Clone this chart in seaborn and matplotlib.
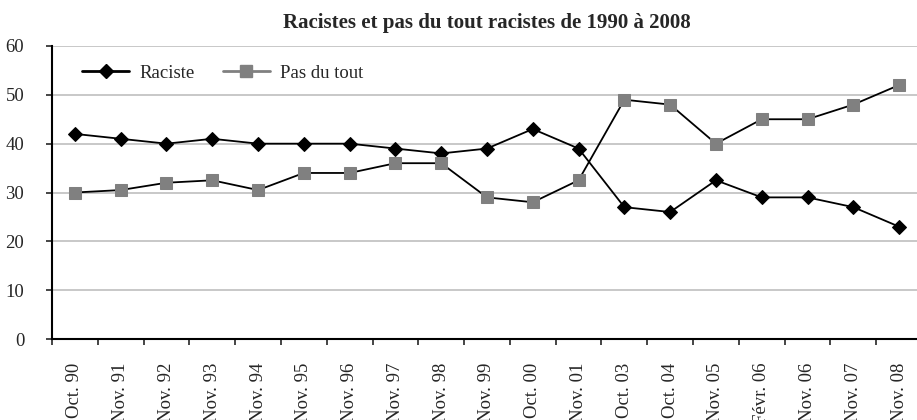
import numpy as np
import pandas as pd
import matplotlib
matplotlib.use('Agg')
import matplotlib.pyplot as plt
from matplotlib.lines import Line2D
from matplotlib.ticker import FixedLocator
import seaborn as sns

# data
periods = ['Oct. 90', 'Nov. 91', 'Nov. 92', 'Nov. 93', 'Nov. 94', 'Nov. 95', 'Nov. 96',
           'Nov. 97', 'Nov. 98', 'Nov. 99', 'Oct. 00', 'Nov. 01', 'Oct. 03', 'Oct. 04',
           'Nov. 05', 'Févr. 06', 'Nov. 06', 'Nov. 07', 'Nov. 08']
raciste = [42, 41, 40, 41, 40, 40, 40, 39, 38, 39, 43, 39, 27, 26, 32.5, 29, 29, 27, 23]
pas_du_tout = [30, 30.5, 32, 32.5, 30.5, 34, 34, 36, 36, 29, 28, 32.5, 49, 48, 40, 45, 45, 48, 52]
y_ticks = [0, 10, 20, 30, 40, 50, 60]

df = pd.DataFrame({'pos': np.arange(len(periods)), 'periode': periods,
                   'Raciste': raciste, 'Pas du tout': pas_du_tout})

sns.set_style('white')
plt.rcParams['font.family'] = ['Liberation Serif', 'DejaVu Serif']

fig = plt.figure(figsize=(9.17, 4.2), dpi=100)
ax = fig.add_axes([52 / 917, 1 - 339 / 420, 870 / 917, 293 / 420])

# grid first so lines sit on top
for v in y_ticks[1:]:
    ax.axhline(v, color='#c4c4c4', lw=1.3, zorder=0)

sns.lineplot(data=df, x='pos', y='Raciste', ax=ax, color='black', lw=1.3,
             marker='D', markersize=7, markeredgecolor='black', zorder=3)
sns.lineplot(data=df, x='pos', y='Pas du tout', ax=ax, color='black', lw=1.3,
             marker='s', markersize=8.5, markerfacecolor='#808080',
             markeredgecolor='#808080', zorder=3)

ax.set_xlim(-0.5, len(periods) - 0.5)
ax.set_ylim(0, 60)
ax.set_yticks(y_ticks)
ax.set_yticklabels([str(v) for v in y_ticks], fontsize=13.5)
ax.tick_params(axis='y', direction='out', length=4, width=1.2, pad=16, left=True)

ax.set_xticks(df['pos'])
ax.set_xticklabels(periods, rotation=90, fontsize=13.5, va='top')
ax.xaxis.set_minor_locator(FixedLocator(np.arange(len(periods) + 1) - 0.5))
ax.tick_params(axis='x', which='major', length=0, pad=17)
ax.tick_params(axis='x', which='minor', direction='out', length=4, width=1.2, bottom=True)

ax.set_xlabel('')
ax.set_ylabel('')
for s in ['top', 'right']:
    ax.spines[s].set_visible(False)
for s in ['left', 'bottom']:
    ax.spines[s].set_color('black')
    ax.spines[s].set_linewidth(1.5)

ax.set_title('Racistes et pas du tout racistes de 1990 à 2008', fontsize=15,
             fontweight='bold', pad=13)

handles = [Line2D([], [], color='black', lw=2, marker='D', markersize=7),
           Line2D([], [], color='#808080', lw=2, marker='s', markersize=8.5)]
ax.legend(handles, ['Raciste', 'Pas du tout'], loc='center left',
          bbox_to_anchor=(0.035, 0.908), ncol=2, frameon=False, fontsize=13.5,
          handlelength=2.5, handletextpad=0.55, columnspacing=1.5,
          borderpad=0, borderaxespad=0)

fig.savefig('out.png', dpi=100)
